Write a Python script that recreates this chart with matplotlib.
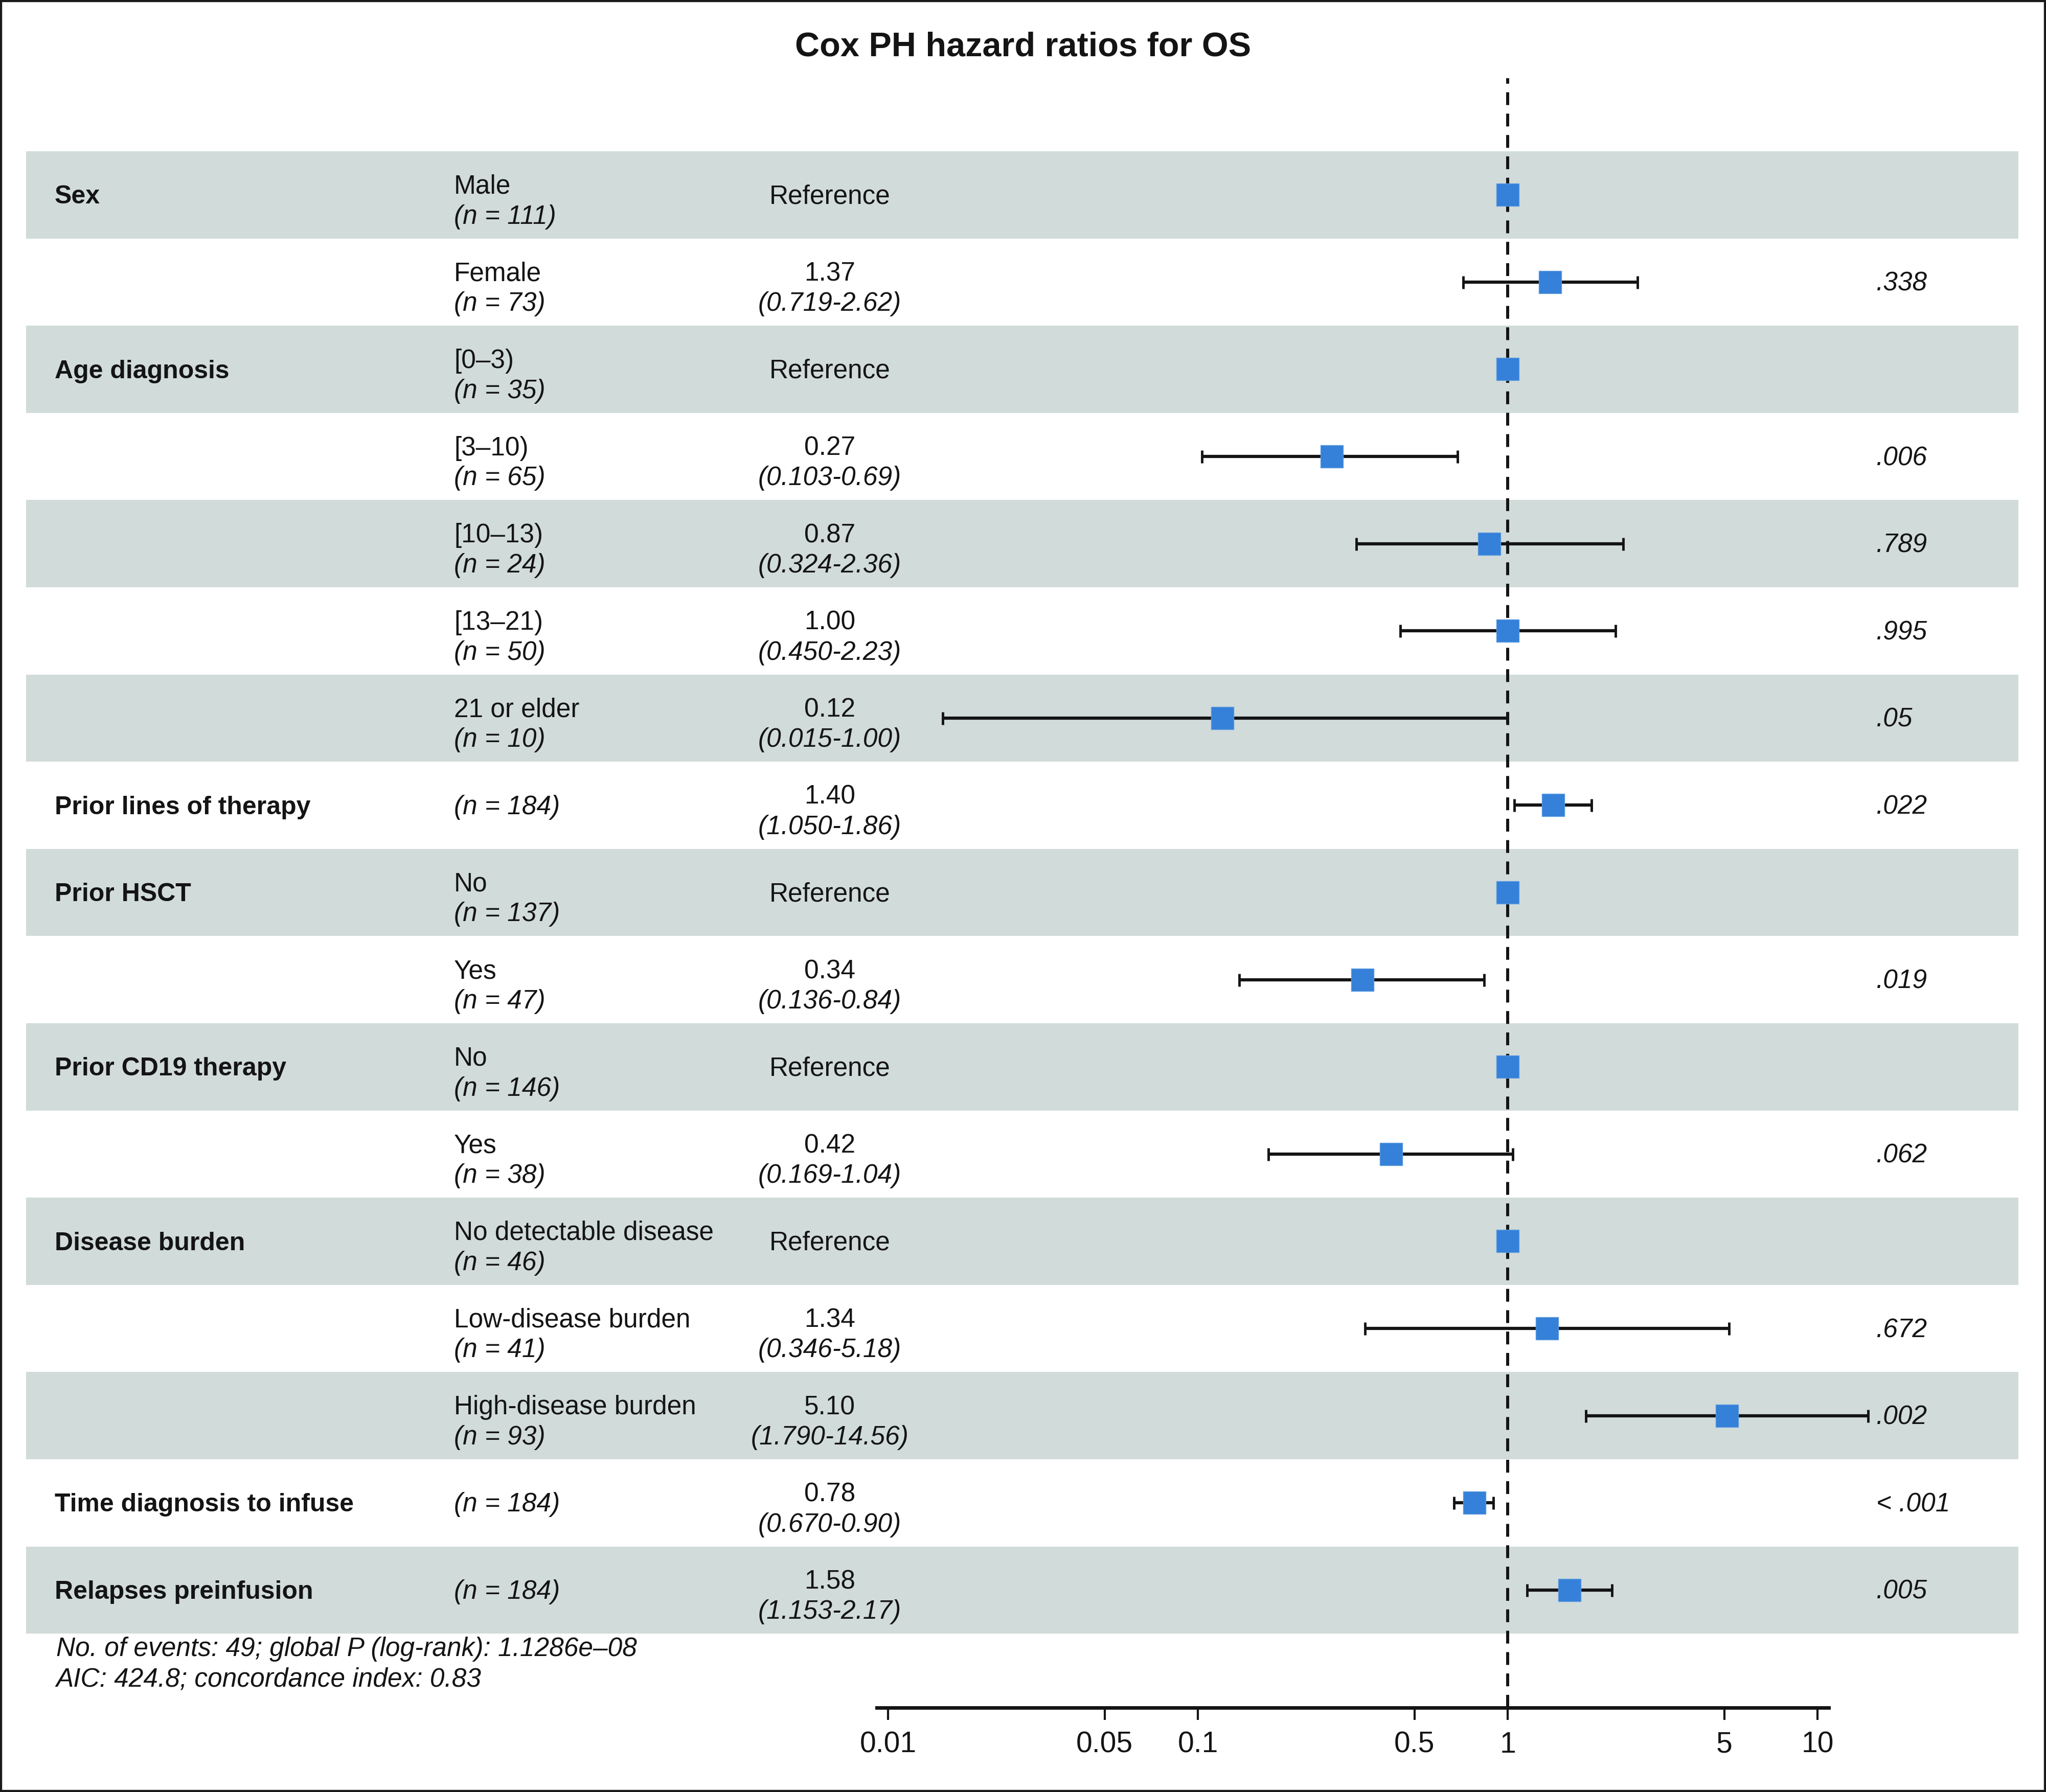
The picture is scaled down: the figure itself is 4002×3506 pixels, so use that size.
import numpy as np
import matplotlib.pyplot as plt
from matplotlib.patches import Rectangle
from matplotlib.transforms import blended_transform_factory

plt.rcParams['font.family'] = ['Liberation Sans', 'DejaVu Sans']

# table rows, top to bottom
variables = ['Sex', '', 'Age diagnosis', '', '', '', '', 'Prior lines of therapy',
             'Prior HSCT', '', 'Prior CD19 therapy', '', 'Disease burden', '', '',
             'Time diagnosis to infuse', 'Relapses preinfusion']
levels = ['Male', 'Female', '[0–3)', '[3–10)', '[10–13)', '[13–21)', '21 or elder', '',
          'No', 'Yes', 'No', 'Yes', 'No detectable disease', 'Low-disease burden',
          'High-disease burden', '', '']
n_obs = [111, 73, 35, 65, 24, 50, 10, 184, 137, 47, 146, 38, 46, 41, 93, 184, 184]
hr = [1, 1.37, 1, 0.27, 0.87, 1.00, 0.12, 1.40, 1, 0.34, 1, 0.42, 1, 1.34, 5.10, 0.78, 1.58]
ci_low = [np.nan, 0.719, np.nan, 0.103, 0.324, 0.450, 0.015, 1.050, np.nan, 0.136,
          np.nan, 0.169, np.nan, 0.346, 1.790, 0.670, 1.153]
ci_high = [np.nan, 2.62, np.nan, 0.69, 2.36, 2.23, 1.00, 1.86, np.nan, 0.84,
           np.nan, 1.04, np.nan, 5.18, 14.56, 0.90, 2.17]
p_values = ['', '.338', '', '.006', '.789', '.995', '.05', '.022', '', '.019', '', '.062',
            '', '.672', '.002', '< .001', '.005']
ticks = [0.01, 0.05, 0.1, 0.5, 1, 5, 10]
tick_labels = ['0.01', '0.05', '0.1', '0.5', '1', '5', '10']
title = 'Cox PH hazard ratios for OS'
footnote = ['No. of events: 49; global P (log-rank): 1.1286e–08',
            'AIC: 424.8; concordance index: 0.83']

W, H = 4002, 3506
band_color = '#d1dbda'
box_color = '#3580d8'
ink = '#141414'
fs = 37
fs_bold = 36

def fx(px):
    return px / W

def fy(py):
    return 1 - py / H

fig = plt.figure(figsize=(W / 100, H / 100), dpi=100)
ax = fig.add_axes([fx(1715), fy(3341), fx(3679) - fx(1715), fy(153) - fy(3341)])
ax.patch.set_visible(False)
ax.set_xscale('log')
ax.set_xlim(0.0092, 16)

n_rows = len(hr)
row_px = 170.6
ax.set_ylim(-0.5 + (3341 - 296) / row_px, -0.5 - (296 - 153) / row_px)

y = np.arange(n_rows)
trans = blended_transform_factory(fig.transFigure, ax.transData)

for i in y:
    if i % 2 == 0:
        ax.add_patch(Rectangle((fx(51), i - 0.5), fx(3948) - fx(51), 1, transform=trans,
                               facecolor=band_color, edgecolor='none', clip_on=False, zorder=0))
    ax.text(fx(107), i + 0.1, variables[i], transform=trans, fontsize=fs_bold,
            fontweight='bold', va='baseline', color=ink)
    n_txt = f'(n = {n_obs[i]})'
    if levels[i]:
        ax.text(fx(888), i - 0.015, levels[i], transform=trans, fontsize=fs, va='baseline', color=ink)
        ax.text(fx(888), i + 0.33, n_txt, transform=trans, fontsize=fs, va='baseline',
                style='italic', color=ink)
    else:
        ax.text(fx(888), i + 0.1, n_txt, transform=trans, fontsize=fs, va='baseline',
                style='italic', color=ink)
    if np.isnan(ci_low[i]):
        ax.text(fx(1623), i + 0.1, 'Reference', transform=trans, fontsize=fs,
                ha='center', va='baseline', color=ink)
    else:
        ax.text(fx(1623), i - 0.015, f'{hr[i]:.2f}', transform=trans, fontsize=fs,
                ha='center', va='baseline', color=ink)
        ax.text(fx(1623), i + 0.33, f'({ci_low[i]:.3f}-{ci_high[i]:.2f})', transform=trans,
                fontsize=fs, ha='center', va='baseline', style='italic', color=ink)
    ax.text(fx(3670), i + 0.1, p_values[i], transform=trans, fontsize=fs, va='baseline',
            style='italic', color=ink)

# reference line
ax.axvline(1, color=ink, lw=4.3, linestyle=(0, (4.2, 2.8)), zorder=1)

# confidence intervals
hr_a = np.array(hr)
lo = np.array(ci_low)
hi = np.array(ci_high)
has_ci = ~np.isnan(lo)
ax.errorbar(hr_a[has_ci], y[has_ci],
            xerr=[hr_a[has_ci] - lo[has_ci], hi[has_ci] - hr_a[has_ci]],
            fmt='none', ecolor=ink, elinewidth=4.5, capsize=9, capthick=3.5, zorder=2)
ax.plot(hr_a, y, 's', ms=32, color=box_color, mec='#5b9ae0', mew=1, linestyle='none', zorder=3)

# x axis
for side in ['left', 'right', 'top']:
    ax.spines[side].set_visible(False)
ax.spines['bottom'].set_linewidth(5)
ax.spines['bottom'].set_color(ink)
ax.spines['bottom'].set_bounds(0.0092, 10.87)
ax.set_xticks(ticks)
ax.set_xticklabels(tick_labels)
ax.xaxis.set_minor_locator(plt.NullLocator())
ax.tick_params(axis='x', length=17, width=3, pad=16, labelsize=41, colors=ink)
ax.set_yticks([])

fig.text(0.5, fy(110), title, ha='center', va='baseline', fontsize=48,
         fontweight='bold', color=ink)
fig.text(fx(110), fy(3240), footnote[0], fontsize=fs, style='italic', va='baseline', color=ink)
fig.text(fx(110), fy(3300), footnote[1], fontsize=fs, style='italic', va='baseline', color=ink)

fig.add_artist(Rectangle((0, 0), 1, 1, transform=fig.transFigure, fill=False,
                         lw=6, edgecolor='#1a1a1a'))

fig.savefig('out.png', dpi=100)
